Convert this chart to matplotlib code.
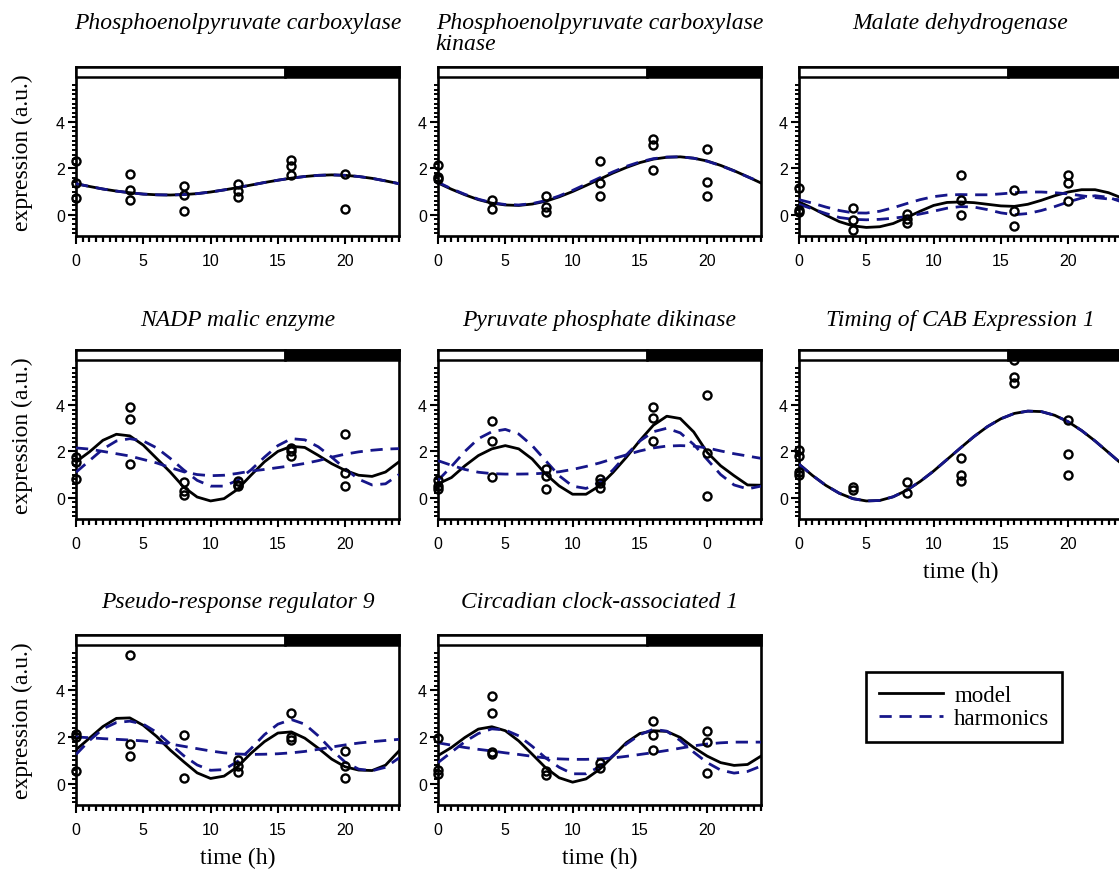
import matplotlib
matplotlib.use('Agg')
import matplotlib.pyplot as plt
import matplotlib.transforms as mtrans
from matplotlib.patches import Rectangle
from matplotlib.ticker import MultipleLocator, FixedLocator

plt.rcParams['font.family'] = ['Liberation Sans', 'DejaVu Sans']
SERIF = ['Liberation Serif', 'DejaVu Serif']
NAVY = '#16168a'

# time grid of the fitted curves (h)
hours = list(range(25))

titles = ['Phosphoenolpyruvate carboxylase',
          'Phosphoenolpyruvate carboxylase\nkinase',
          'Malate dehydrogenase',
          'NADP malic enzyme',
          'Pyruvate phosphate dikinase',
          'Timing of CAB Expression 1',
          'Pseudo-response regulator 9',
          'Circadian clock-associated 1']

# PEPC
pepc_model = [1.34,1.22,1.11,1.02,0.95,0.89,0.86,0.85,0.87,0.91,0.98,1.07,1.17,1.28,1.39,1.49,1.58,1.65,1.70,1.72,1.70,1.65,1.57,1.46,1.34]
pepc_harm = [1.34,1.22,1.11,1.02,0.95,0.89,0.86,0.85,0.87,0.91,0.98,1.07,1.17,1.28,1.39,1.49,1.58,1.65,1.70,1.72,1.70,1.65,1.57,1.46,1.34]
pepc_t = [0,0,0,4,4,4,8,8,8,12,12,12,16,16,16,20,20]
pepc_y = [2.30,1.38,0.74,1.77,1.08,0.64,1.24,0.84,0.16,1.34,1.01,0.76,2.38,2.12,1.73,1.77,0.24]

# PEPC kinase
ppck_model = [1.37,1.10,0.86,0.65,0.50,0.42,0.40,0.46,0.58,0.77,1.00,1.26,1.53,1.80,2.04,2.25,2.40,2.48,2.50,2.44,2.32,2.13,1.90,1.64,1.37]
ppck_harm = [1.40,1.12,0.88,0.67,0.52,0.44,0.42,0.48,0.61,0.81,1.05,1.32,1.59,1.85,2.09,2.28,2.42,2.49,2.50,2.44,2.31,2.12,1.89,1.64,1.40]
ppck_t = [0,0,0,4,4,8,8,8,12,12,12,16,16,16,20,20,20]
ppck_y = [2.15,1.65,1.55,0.62,0.25,0.82,0.35,0.12,2.30,1.35,0.82,3.25,3.00,1.95,2.85,1.40,0.82]

# MDH
mdh_model = [0.55,0.28,-0.02,-0.30,-0.48,-0.55,-0.52,-0.38,-0.12,0.15,0.40,0.53,0.55,0.52,0.45,0.38,0.36,0.45,0.62,0.82,0.98,1.08,1.08,0.95,0.72]
mdh_harm_a = [0.65,0.50,0.33,0.18,0.08,0.07,0.15,0.30,0.48,0.65,0.78,0.85,0.87,0.86,0.86,0.90,0.95,0.98,0.98,0.95,0.90,0.82,0.74,0.68,0.64]
mdh_harm_b = [0.45,0.25,0.05,-0.12,-0.20,-0.22,-0.20,-0.15,-0.08,0.03,0.15,0.28,0.35,0.33,0.22,0.08,0.00,0.05,0.18,0.35,0.55,0.72,0.82,0.75,0.55]
mdh_t = [0,0,0,4,4,4,8,8,8,12,12,12,16,16,16,20,20,20]
mdh_y = [1.15,0.22,0.12,0.27,-0.25,-0.65,0.03,-0.20,-0.35,1.72,0.62,0.00,1.08,0.18,-0.50,1.72,1.35,0.60]

# NADP-ME
me_model = [1.55,1.98,2.48,2.74,2.67,2.27,1.69,1.11,0.46,0.03,-0.14,-0.04,0.36,0.97,1.55,2.00,2.22,2.17,1.83,1.47,1.18,0.97,0.92,1.11,1.55]
me_harm_a = [2.15,2.10,2.00,1.90,1.80,1.65,1.50,1.30,1.12,1.00,0.95,0.97,1.05,1.15,1.22,1.30,1.38,1.48,1.60,1.75,1.88,1.98,2.05,2.10,2.12]
me_harm_b = [1.10,1.60,2.10,2.45,2.55,2.45,2.15,1.70,1.20,0.75,0.50,0.50,0.75,1.20,1.75,2.25,2.55,2.50,2.20,1.75,1.25,0.80,0.55,0.60,1.00]
me_t = [0,0,0,4,4,4,8,8,8,12,12,12,16,16,16,20,20,20]
me_y = [1.75,1.55,0.82,3.90,3.40,1.47,0.68,0.30,0.12,0.72,0.55,0.50,2.15,2.00,1.80,2.77,1.08,0.50]

# PPDK
ppdk_model = [0.60,0.87,1.38,1.82,2.11,2.25,2.11,1.67,1.02,0.51,0.15,0.15,0.51,1.09,1.75,2.47,3.13,3.52,3.42,2.84,1.96,1.38,0.95,0.55,0.54]
ppdk_harm_a = [1.60,1.40,1.22,1.10,1.04,1.02,1.02,1.03,1.06,1.12,1.22,1.35,1.50,1.68,1.85,2.02,2.15,2.23,2.25,2.23,2.15,2.02,1.90,1.80,1.70]
ppdk_harm_b = [0.75,1.35,2.00,2.55,2.85,2.95,2.75,2.25,1.60,0.95,0.50,0.40,0.65,1.20,1.85,2.45,2.85,3.00,2.80,2.30,1.65,1.00,0.55,0.38,0.50]
ppdk_t = [0,0,0,4,4,4,8,8,8,12,12,12,16,16,16,20,20,20]
ppdk_y = [0.75,0.50,0.38,3.30,2.45,0.90,1.25,0.95,0.38,0.80,0.65,0.42,3.90,3.45,2.45,4.45,1.95,0.08]
ppdk_xlabels = ['0', '5', '10', '15', '0']

# TOC1
toc1_model = [1.45,0.96,0.53,0.19,-0.04,-0.14,-0.12,0.04,0.32,0.70,1.15,1.65,2.15,2.64,3.07,3.41,3.64,3.74,3.72,3.56,3.28,2.90,2.45,1.95,1.45]
toc1_harm = [1.45,0.96,0.53,0.19,-0.04,-0.14,-0.12,0.04,0.32,0.70,1.15,1.65,2.15,2.64,3.07,3.41,3.64,3.74,3.72,3.56,3.28,2.90,2.45,1.95,1.45]
toc1_t = [0,0,0,0,4,4,8,8,12,12,12,16,16,16,20,20,20]
toc1_y = [2.05,1.80,1.10,0.98,0.48,0.32,0.68,0.20,1.70,0.98,0.70,5.95,5.20,4.95,3.35,1.87,0.98]

# PRR9
prr9_model = [1.45,1.95,2.45,2.80,2.82,2.50,2.02,1.44,0.94,0.46,0.22,0.32,0.72,1.30,1.80,2.17,2.22,1.95,1.52,1.05,0.72,0.58,0.56,0.79,1.40]
prr9_harm_a = [2.00,1.97,1.93,1.90,1.87,1.83,1.77,1.70,1.60,1.50,1.40,1.32,1.27,1.25,1.26,1.28,1.32,1.38,1.47,1.57,1.66,1.74,1.80,1.85,1.90]
prr9_harm_b = [1.25,1.85,2.35,2.62,2.68,2.55,2.20,1.70,1.20,0.80,0.57,0.60,0.95,1.50,2.10,2.55,2.75,2.55,2.05,1.45,0.92,0.62,0.55,0.70,1.10]
prr9_t = [0,0,0,4,4,4,8,8,12,12,12,16,16,16,20,20,20]
prr9_y = [2.15,2.00,0.52,5.53,1.70,1.18,2.10,0.22,1.00,0.75,0.48,3.05,2.02,1.85,1.40,0.75,0.22]

# CCA1
cca1_model = [1.20,1.55,1.98,2.34,2.44,2.27,1.83,1.26,0.68,0.25,0.06,0.20,0.61,1.18,1.76,2.15,2.27,2.24,1.98,1.55,1.18,0.90,0.78,0.82,1.18]
cca1_harm_a = [1.75,1.65,1.55,1.47,1.40,1.32,1.25,1.17,1.10,1.06,1.04,1.04,1.06,1.10,1.17,1.25,1.33,1.42,1.52,1.62,1.70,1.75,1.78,1.78,1.78]
cca1_harm_b = [0.90,1.35,1.80,2.15,2.35,2.30,2.05,1.60,1.10,0.70,0.42,0.42,0.72,1.20,1.70,2.10,2.33,2.25,1.85,1.35,0.90,0.58,0.45,0.52,0.75]
cca1_t = [0,0,0,4,4,4,4,8,8,12,12,16,16,16,20,20,20]
cca1_y = [1.95,0.58,0.40,3.75,3.05,1.35,1.25,0.55,0.35,0.88,0.65,2.70,2.08,1.45,2.25,1.78,0.45]

light_end = 15.5

panels = [
    (pepc_model, [pepc_harm], pepc_t, pepc_y),
    (ppck_model, [ppck_harm], ppck_t, ppck_y),
    (mdh_model, [mdh_harm_a, mdh_harm_b], mdh_t, mdh_y),
    (me_model, [me_harm_a, me_harm_b], me_t, me_y),
    (ppdk_model, [ppdk_harm_a, ppdk_harm_b], ppdk_t, ppdk_y),
    (toc1_model, [toc1_harm], toc1_t, toc1_y),
    (prr9_model, [prr9_harm_a, prr9_harm_b], prr9_t, prr9_y),
    (cca1_model, [cca1_harm_a, cca1_harm_b], cca1_t, cca1_y),
]

W, H = 1119, 870
fig = plt.figure(figsize=(W / 100, H / 100), dpi=100)

col_x = [(76, 399), (438, 761), (799, 1122)]
row_y = [(68, 237), (351, 520), (636, 806)]
title_top = [13, 310, 592]
y_minor = [-0.8 + 0.2 * k for k in range(33)]

handles = None
for i, (model, harms, pt, py) in enumerate(panels):
    r, c = divmod(i, 3)
    x0, x1 = col_x[c]
    yt, yb = row_y[r]
    ax = fig.add_axes([x0 / W, 1 - yb / H, (x1 - x0) / W, (yb - yt) / H])
    ax.set_xlim(0, 24)
    ax.set_ylim(-0.92, 6.38)

    lm, = ax.plot(hours, model, color='black', lw=2.0, zorder=3)
    for hh in harms:
        lh, = ax.plot(hours, hh, color=NAVY, lw=2.0, dashes=(4.4, 2.8), zorder=4)
    ax.plot(pt, py, 'o', mfc='none', mec='black', ms=5.8, mew=1.7,
            clip_on=False, zorder=5)
    if handles is None:
        handles = [lm, lh]

    # light / dark bar
    tr = mtrans.blended_transform_factory(ax.transData, ax.transAxes)
    ax.add_patch(Rectangle((0, 0.94), light_end, 0.06, transform=tr, fc='white',
                           ec='black', lw=1.8, zorder=6, clip_on=False))
    ax.add_patch(Rectangle((light_end, 0.94), 24 - light_end, 0.06, transform=tr,
                           fc='black', ec='black', lw=1.8, zorder=6, clip_on=False))

    for s in ax.spines.values():
        s.set_linewidth(1.9)
    ax.set_yticks([0, 2, 4])
    ax.yaxis.set_minor_locator(FixedLocator(y_minor))
    ax.set_xticks([0, 5, 10, 15, 20])
    ax.xaxis.set_minor_locator(MultipleLocator(0.5))
    if i == 4:
        ax.set_xticklabels(ppdk_xlabels)
    ax.tick_params(which='major', direction='out', length=6, width=1.5,
                   labelsize=11.5)
    ax.tick_params(axis='x', which='major', pad=6)
    ax.tick_params(axis='y', which='major', pad=2)
    ax.tick_params(axis='x', which='minor', direction='out', length=4, width=1.6)
    ax.tick_params(axis='y', which='minor', direction='out', length=3, width=1.4)

    xc = (x0 + x1) / 2
    fig.text(xc / W, 1 - title_top[r] / H, titles[i], family=SERIF, style='italic',
             fontsize=17, ha='center', va='top', multialignment='left',
             linespacing=1.0)
    if c == 0:
        fig.text(22 / W, 1 - (yt + yb) / 2 / H, 'expression (a.u.)', family=SERIF,
                 fontsize=17, rotation=90, ha='center', va='center')
    if i in (5, 6, 7):
        fig.text(xc / W, 1 - (yb + 52) / H, 'time (h)', family=SERIF,
                 fontsize=17, ha='center', va='center')

leg = fig.legend(handles, ['model', 'harmonics'], loc='center',
                 bbox_to_anchor=(964 / W, 1 - 708 / H),
                 prop={'family': SERIF, 'size': 16.5}, frameon=True, fancybox=False,
                 framealpha=1, edgecolor='black', handlelength=2.8,
                 labelspacing=0.1, borderpad=0.55, handletextpad=0.5)
leg.get_frame().set_linewidth(1.9)

fig.savefig('out.png', dpi=100)
